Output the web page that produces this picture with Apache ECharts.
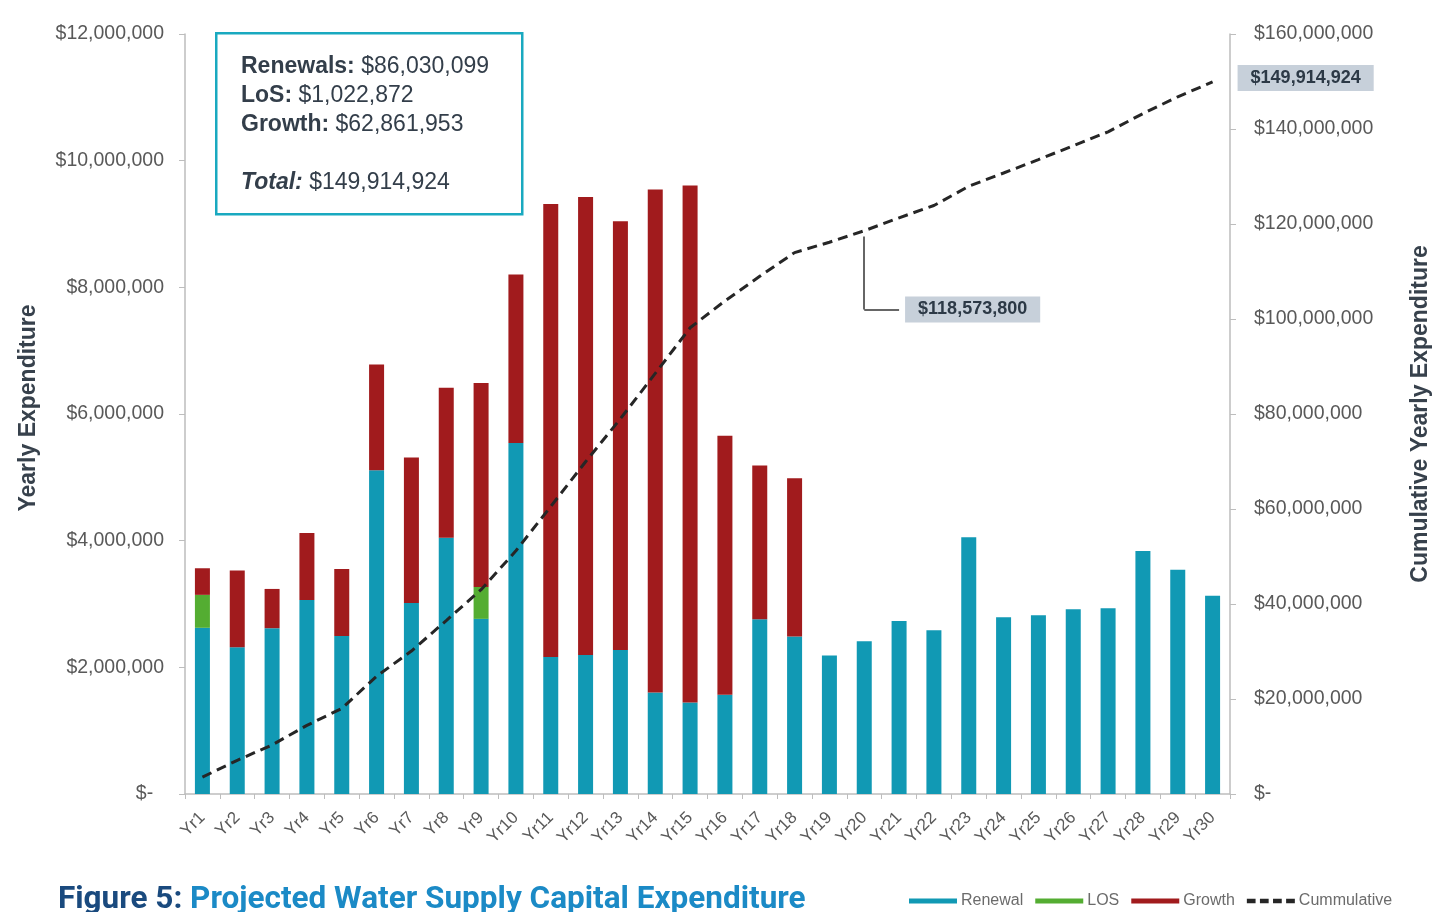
<!DOCTYPE html>
<html>
<head>
<meta charset="utf-8">
<title>Projected Water Supply Capital Expenditure</title>
<script src="https://cdn.jsdelivr.net/npm/echarts@6/dist/echarts.min.js"></script>
<style>
  html, body { margin: 0; padding: 0; background: #ffffff; }
  #chart { width: 1450px; height: 912px; }
</style>
</head>
<body>
<div id="chart"></div>
<script>
// 30-year capital programme, dollars per year
const years = ['Yr1','Yr2','Yr3','Yr4','Yr5','Yr6','Yr7','Yr8','Yr9','Yr10',
  'Yr11','Yr12','Yr13','Yr14','Yr15','Yr16','Yr17','Yr18','Yr19','Yr20',
  'Yr21','Yr22','Yr23','Yr24','Yr25','Yr26','Yr27','Yr28','Yr29','Yr30'];

const renewal = [2624310, 2318540, 2617905, 3062480, 2493120, 5112760, 3014330, 4046215, 2765480, 5541090,
  2164870, 2195340, 2274610, 1603925, 1446280, 1565410, 2757830, 2486220, 2187645, 2410615,
  2731460, 2584190, 4052870, 2791305, 2822640, 2918475, 2931750, 3836210, 3541385, 3130839];

const los = [520000, 0, 0, 0, 0, 0, 0, 0, 502872, 0,
  0, 0, 0, 0, 0, 0, 0, 0, 0, 0,
  0, 0, 0, 0, 0, 0, 0, 0, 0, 0];

const growth = [420000, 1210000, 620000, 1060000, 1060000, 1670000, 2300000, 2370000, 3220000, 2660000,
  7150000, 7230000, 6770000, 7940000, 8161953, 4090000, 2430000, 2500000, 0, 0,
  0, 0, 0, 0, 0, 0, 0, 0, 0, 0];

const cumulative = [3564310, 7092850, 10330755, 14453235, 18006355, 24789115, 30103445, 36519660, 43008012, 51209102,
  60523972, 69949312, 78993922, 88537847, 98146080, 103801490, 108989320, 113975540, 116163185, 118573800,
  121305260, 123889450, 127942320, 130733625, 133556265, 136474740, 139406490, 143242700, 146784085, 149914924];

// axis ranges
const yearlyMax = 12000000, yearlyStep = 2000000;
const cumulativeMax = 160000000, cumulativeStep = 20000000;

// callout: year index and the level of the leader elbow on the cumulative axis
const calloutIndex = 19;
const calloutElbow = 102000000;

const FONT = '"Liberation Sans", Arial, sans-serif';
const COLORS = { renewal: '#1199b4', los: '#54ad32', growth: '#a11b1d', cumulative: '#262626' };

function money(v) {
  if (v === 0) return '$-  ';
  return '$' + String(Math.round(v)).replace(/\B(?=(\d{3})+(?!\d))/g, ',');
}
const sum = arr => arr.reduce((a, b) => a + b, 0);
const totalRenewal = sum(renewal), totalLos = sum(los), totalGrowth = sum(growth);
const grandTotal = totalRenewal + totalLos + totalGrowth;

const chart = echarts.init(document.getElementById('chart'), null, { renderer: 'canvas' });

const tagLabel = {
  color: '#2c3946',
  fontFamily: FONT,
  fontWeight: 'bold',
  fontSize: 18,
  backgroundColor: '#c7d0da',
  padding: [4, 13, 4, 13]
};

// four short dashes, used as the legend key of the cumulative line
const dashIcon = 'path://M0,0h8v4h-8z M12,0h8v4h-8z M24,0h8v4h-8z M36,0h8v4h-8z';

const option = {
  animation: false,
  backgroundColor: '#ffffff',
  textStyle: { fontFamily: FONT },
  grid: { left: 185, right: 220, top: 34, bottom: 118, containLabel: false },
  legend: {
    left: 904, top: 888,
    itemWidth: 48, itemHeight: 5, itemGap: 12,
    textStyle: { color: '#6b6b6b', fontSize: 16, fontFamily: FONT, padding: [0, 0, 0, -1] },
    data: [
      { name: 'Renewal', icon: 'rect' },
      { name: 'LOS', icon: 'rect' },
      { name: 'Growth', icon: 'rect' },
      { name: 'Cummulative', icon: dashIcon, itemStyle: { color: '#262626' } }
    ]
  },
  xAxis: {
    type: 'category',
    data: years,
    boundaryGap: true,
    axisLine: { lineStyle: { color: '#bdbdbd', width: 1.5 } },
    axisTick: { show: true, length: 5, lineStyle: { color: '#bdbdbd' } },
    axisLabel: { rotate: 45, color: '#595959', fontSize: 17, margin: 21, interval: 0, fontFamily: FONT }
  },
  yAxis: [
    {
      type: 'value',
      min: 0, max: yearlyMax, interval: yearlyStep,
      name: 'Yearly Expenditure',
      nameLocation: 'middle', nameRotate: 90, nameGap: 145,
      nameTextStyle: { color: '#37414c', fontSize: 23, fontWeight: 'bold', fontFamily: FONT, padding: [0, 0, 0, 12] },
      axisLine: { show: true, lineStyle: { color: '#bdbdbd', width: 1.5 } },
      axisTick: { show: true, length: 6, lineStyle: { color: '#bdbdbd' } },
      splitLine: { show: false },
      axisLabel: { color: '#595959', fontSize: 19.5, margin: 21, formatter: money, fontFamily: FONT }
    },
    {
      type: 'value',
      position: 'right',
      min: 0, max: cumulativeMax, interval: cumulativeStep,
      name: 'Cumulative Yearly Expenditure',
      nameLocation: 'middle', nameRotate: 90, nameGap: 179,
      nameTextStyle: { color: '#37414c', fontSize: 23, fontWeight: 'bold', fontFamily: FONT },
      axisLine: { show: true, lineStyle: { color: '#bdbdbd', width: 1.5 } },
      axisTick: { show: true, length: 6, lineStyle: { color: '#bdbdbd' } },
      splitLine: { show: false },
      axisLabel: { color: '#595959', fontSize: 19.5, margin: 24, formatter: money, fontFamily: FONT }
    }
  ],
  series: [
    {
      name: 'Renewal', type: 'bar', stack: 'yearly', yAxisIndex: 0,
      data: renewal, barWidth: 15,
      itemStyle: { color: COLORS.renewal }
    },
    {
      name: 'LOS', type: 'bar', stack: 'yearly', yAxisIndex: 0,
      data: los, barWidth: 15,
      itemStyle: { color: COLORS.los }
    },
    {
      name: 'Growth', type: 'bar', stack: 'yearly', yAxisIndex: 0,
      data: growth, barWidth: 15,
      itemStyle: { color: COLORS.growth }
    },
    {
      name: 'Cummulative', type: 'line', yAxisIndex: 1,
      data: cumulative,
      symbol: 'none', showSymbol: false,
      z: 5,
      lineStyle: { color: COLORS.cumulative, width: 3, type: [10, 6] },
      itemStyle: { color: COLORS.cumulative },
      endLabel: Object.assign({
        show: true,
        distance: 25,
        offset: [0, -4],
        formatter: p => money(p.value)
      }, tagLabel),
      markLine: {
        silent: true,
        symbol: 'none',
        animation: false,
        lineStyle: { color: '#333333', width: 1.5, type: 'solid' },
        label: { show: false },
        data: [
          [
            { coord: [years[calloutIndex], cumulative[calloutIndex] - 1200000] },
            { coord: [years[calloutIndex], calloutElbow] }
          ],
          [
            { coord: [years[calloutIndex], calloutElbow] },
            {
              coord: [years[calloutIndex + 1], calloutElbow],
              label: Object.assign({
                show: true,
                position: 'end',
                distance: 6,
                formatter: () => money(cumulative[calloutIndex])
              }, tagLabel)
            }
          ]
        ]
      }
    }
  ],
  graphic: [
    {
      type: 'rect',
      left: 215, top: 32,
      shape: { width: 306, height: 181 },
      style: { fill: '#ffffff', stroke: '#19a9c0', lineWidth: 2.5 },
      z: 10
    },
    {
      type: 'text',
      left: 241, top: 52,
      z: 11,
      style: {
        text: [
          '{b|Renewals:} {n|' + money(totalRenewal) + '}',
          '{b|LoS:} {n|' + money(totalLos) + '}',
          '{b|Growth:} {n|' + money(totalGrowth) + '}',
          '',
          '{bi|Total:} {n|' + money(grandTotal) + '}'
        ].join('\n'),
        rich: {
          b: { fontFamily: FONT, fontSize: 23, fontWeight: 'bold', fill: '#333e4a', lineHeight: 29 },
          bi: { fontFamily: FONT, fontSize: 23, fontWeight: 'bold', fontStyle: 'italic', fill: '#333e4a', lineHeight: 29 },
          n: { fontFamily: FONT, fontSize: 23, fill: '#333e4a', lineHeight: 29 }
        },
        font: '23px ' + FONT,
        lineHeight: 29
      }
    },
    {
      type: 'text',
      left: 58, top: 884,
      z: 11,
      style: {
        text: '{a|Figure 5:}{b| Projected Water Supply Capital Expenditure}',
        rich: {
          a: { fontFamily: 'Roboto, ' + FONT, fontSize: 31.5, fontWeight: 'bold', fill: '#1a4a7e' },
          b: { fontFamily: 'Roboto, ' + FONT, fontSize: 31.5, fontWeight: 'bold', fill: '#1b8ac6' }
        }
      }
    }
  ]
};

chart.setOption(option);
</script>
</body>
</html>
